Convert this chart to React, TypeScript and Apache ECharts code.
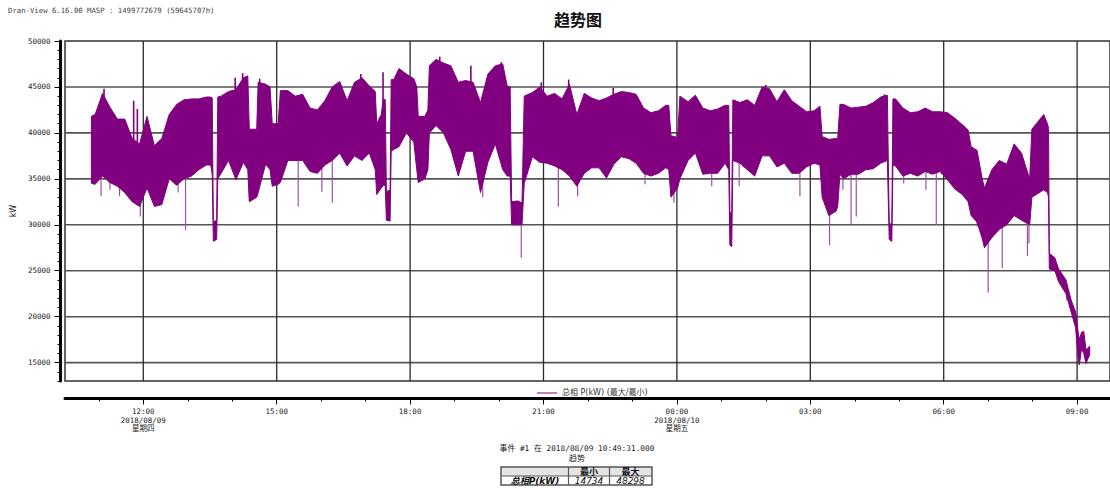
import React, { useEffect, useRef } from "react";
import * as echarts from "echarts";

const chartTitle = "趋势图";
const headerText = "Dran-View 6.16.00 MASP : 1499772679 (59645707h)";
const seriesName = "总相 P(kW) (最大/最小)";
const yAxisName = "kW";
const eventText = "事件 #1 在 2018/08/09 10:49:31.000";
const subTitle = "趋势";
const tableHeaders = ["最小", "最大"];
const tableRowLabel = "总相P(kW)";
const statMin = 14734;
const statMax = 48298;

// time in minutes since 2018/08/09 00:00
const times = [
  650, 655, 665, 675, 685, 695, 705, 715, 725, 735, 745, 755, 765, 775, 785, 795, 805, 811, 813, 814.5, 819, 820.5,
  825, 835, 845, 855, 861, 863, 873, 875, 885, 891, 894, 902, 905, 915, 925, 935, 945, 955, 965, 975, 985, 995,
  1005, 1015, 1025, 1033, 1035, 1041, 1044, 1046.5, 1048, 1053, 1054.5, 1058, 1065, 1075, 1085, 1089, 1091, 1100,
  1104, 1106, 1115, 1125, 1135, 1145, 1155, 1165, 1175, 1185, 1195, 1205, 1211, 1215, 1217, 1225, 1231, 1234,
  1245, 1255, 1265, 1275, 1285, 1295, 1305, 1315, 1325, 1335, 1345, 1355, 1365, 1375, 1385, 1395, 1405, 1415,
  1425, 1429, 1432, 1441, 1444, 1455, 1465, 1475, 1485, 1495, 1505, 1510, 1511.5, 1514, 1515.5, 1525, 1535, 1545,
  1555, 1565, 1575, 1585, 1595, 1605, 1615, 1625, 1633, 1636, 1645, 1655, 1657, 1660, 1665, 1675, 1685, 1695,
  1705, 1715, 1724, 1726.5, 1730, 1731.5, 1735, 1745, 1755, 1765, 1775, 1785, 1795, 1805, 1815, 1825, 1833, 1837,
  1845, 1852, 1855, 1865, 1875, 1885, 1895, 1905, 1916, 1919, 1925, 1935, 1940, 1941.5, 1942.5, 1950, 1955, 1965,
  1972, 1978, 1981, 1983, 1986, 1989, 1992, 1995, 1997,
];
const hiVals = [
  41800, 42000, 44300, 42800, 41500, 41500, 39400, 38800, 41800, 38600, 39400, 42000, 43100, 43600, 43700, 43700, 43900, 43900, 43800, 30300, 30500, 43900,
  44000, 44500, 44700, 46000, 46200, 40400, 40400, 45500, 45300, 45000, 41000, 41000, 44600, 44600, 44000, 44200, 42700, 42500, 43500, 45000, 45600, 43500,
  45500, 46000, 45100, 44500, 41000, 42000, 43700, 43600, 33600, 33800, 45800, 45800, 47000, 46400, 45900, 45000, 41800, 41800,
  42500, 47300, 48000, 47600, 47300, 45500, 45700, 45500, 43300, 46400, 47300, 47500, 45100, 45000, 32500, 32600, 32400, 44000,
  44400, 45000, 44000, 44300, 43700, 45300, 42000, 44300, 43800, 43500, 43800, 44200, 44500, 44400, 44200, 42700, 42200, 42400,
  43000, 43000, 39700, 39500, 44000, 43400, 44100, 42700, 42400, 42600, 43000, 43000, 31300, 31300, 43600, 43300, 43600, 43000,
  45000, 44800, 43400, 44700, 43500, 42900, 42300, 42400, 42900, 39600, 39300, 39400, 39400, 43100, 43100, 42700, 42800, 42900,
  43300, 43900, 44100, 30200, 30000, 43700, 43700, 42700, 42200, 42300, 42700, 42300, 42300, 42200, 41600, 40900, 40300, 38500,
  38100, 35000, 34000, 36000, 37000, 36600, 38800, 37800, 35000, 40400, 41000, 42000, 41000, 40500, 26900, 26400, 25200, 24000,
  21800, 20500, 18600, 17500, 18300, 18400, 16400, 16600, 16800,
];
const loVals = [
  34500, 34400, 35300, 34600, 34200, 33500, 32500, 32000, 34000, 32000, 32200, 35000, 34300, 35000, 35300, 36000, 36500, 36500, 35500, 28200, 28400, 35000,
  35600, 37000, 34900, 36800, 36000, 32500, 33000, 33500, 36600, 36000, 34200, 34400, 34600, 37000, 37000, 37000, 35800, 35600, 36500, 37000, 37800, 36400,
  37500, 37000, 37800, 36000, 33300, 34000, 34300, 34300, 30500, 30400, 38000, 38200, 38500, 40000, 39000, 36000, 34600, 35000,
  36000, 40000, 40800, 40000, 38200, 35300, 38000, 38000, 33500, 36800, 38800, 36000, 35300, 35300, 30000, 30000, 30000, 34500,
  37400, 36800, 36700, 36400, 36000, 35300, 34200, 35600, 36200, 36200, 35100, 36600, 37400, 37200, 36700, 35600, 35300, 35600,
  36200, 36000, 33000, 34000, 35000, 37000, 37800, 35500, 35600, 35600, 36700, 36000, 27800, 27600, 37000, 36700, 36000, 35300,
  37500, 37500, 36300, 36700, 35600, 35600, 36300, 36700, 36500, 33000, 31000, 31500, 32000, 35500, 35000, 35500, 35500, 36000,
  36100, 36700, 37000, 28400, 28200, 36500, 36400, 35300, 35600, 35300, 35800, 35500, 35800, 34900, 33900, 33300, 32500, 31000,
  30300, 28500, 27500, 28600, 29500, 30000, 31000, 30500, 30000, 33000, 33300, 33800, 33500, 33000, 25200, 25000, 23800, 22500,
  20500, 18800, 15700, 14750, 16500, 16000, 14900, 15500, 15800,
];

// isolated excursions outside the dense band: [minute, value]
const downSpikes = [
  [663, 33100], [675, 33800], [688, 33100], [716, 30900], [767, 33500], [777, 29400], [929, 32000], [961, 33600],
  [975, 32400], [1178, 33000], [1230, 26400], [1280, 32000], [1306, 33100], [1397, 34400], [1436, 32400],
  [1487, 34200], [1524, 34200], [1606, 33100], [1646, 27800], [1664, 33800], [1675, 29900], [1682, 30900],
  [1746, 34500], [1776, 33800], [1790, 30000], [1845, 29800], [1860, 22600], [1879, 25300], [1913, 26600],
  [1915, 28000], [1966, 21800],
];
const upSpikes = [
  [667, 44800], [707, 43500], [712, 42600], [844, 46000], [854, 46500], [877, 45900], [1013.5, 46400],
  [1043.5, 46600], [1120, 48300], [1162, 47300], [1203, 47700], [1257, 45500], [1294, 45800], [1354, 44900],
  [1560, 45200], [1720, 44200],
];

const yMin = 13000;
const yMax = 50000;
const xMin = 614.35;
const xMax = 2024.4;
const yMajor = [15000, 20000, 25000, 30000, 35000, 40000, 45000, 50000];
const yGrid = [15000, 20000, 25000, 30000, 35000, 40000, 45000];
const xMajor = [720, 900, 1080, 1260, 1440, 1620, 1800, 1980];
const xMajorLabels = [
  "12:00\n2018/08/09\n星期四", "15:00", "18:00", "21:00", "00:00\n2018/08/10\n星期五", "03:00", "06:00", "09:00",
];
const xMinor = [660, 720, 780, 840, 900, 960, 1020, 1080, 1140, 1200, 1260, 1320, 1380, 1440, 1500, 1560, 1620,
  1680, 1740, 1800, 1860, 1920, 1980];

const PURPLE = "#800080";
const MONO = "'DejaVu Sans Mono', 'Noto Sans CJK SC', monospace";
const CJK = "'DejaVu Sans', 'Noto Sans CJK SC', sans-serif";

function interp(arrT: number[], arrV: number[], t: number) {
  if (t <= arrT[0]) return arrV[0];
  for (let i = 1; i < arrT.length; i++) {
    if (t <= arrT[i]) {
      const f = (t - arrT[i - 1]) / (arrT[i] - arrT[i - 1]);
      return arrV[i - 1] + f * (arrV[i] - arrV[i - 1]);
    }
  }
  return arrV[arrV.length - 1];
}

export default function App() {
  const ref = useRef<HTMLDivElement>(null);
  useEffect(() => {
    if (!ref.current) return;
    const chart = echarts.init(ref.current, null, { renderer: "svg" });
    const axisFont = { fontFamily: MONO, fontSize: 7.5, color: "#222" };
    const option: any = {
      animation: false,
      title: {
        text: chartTitle,
        left: 549,
        top: 7,
        textStyle: { fontSize: 16, fontWeight: "bold", fontFamily: CJK, color: "#111" },
      },
      legend: {
        data: [{ name: seriesName, icon: "rect" }],
        left: 532,
        top: 384,
        itemWidth: 20,
        itemHeight: 1,
        selectedMode: false,
        textStyle: { fontFamily: CJK, fontSize: 8, color: "#333" },
      },
      grid: {
        left: 65,
        top: 41,
        right: 0,
        bottom: 108,
        show: true,
        borderColor: "#333",
        borderWidth: 1.5,
      },
      xAxis: [
        {
          type: "value",
          min: xMin,
          max: xMax,
          position: "bottom",
          offset: 17.5,
          axisLine: { show: true, lineStyle: { color: "#000", width: 3 } },
          axisTick: { show: true, customValues: xMinor, length: 3, lineStyle: { color: "#000", width: 1 } },
          axisLabel: { show: false },
          splitLine: { show: false },
        },
        {
          type: "value",
          min: xMin,
          max: xMax,
          position: "bottom",
          offset: 17.5,
          axisLine: { show: false },
          axisTick: { show: true, customValues: xMajor, length: 6, lineStyle: { color: "#000", width: 1 } },
          axisLabel: {
            show: true,
            customValues: xMajor,
            margin: 9,
            lineHeight: 8.5,
            align: "center",
            ...axisFont,
            formatter: (v: number) => {
              const i = xMajor.indexOf(Math.round(v));
              return i >= 0 ? xMajorLabels[i] : "";
            },
          },
          splitLine: { show: false },
        },
      ],
      yAxis: [
        {
          type: "value",
          min: yMin,
          max: yMax,
          interval: 1000,
          offset: 4.5,
          axisLine: { show: true, lineStyle: { color: "#000", width: 3 } },
          axisTick: { show: true, length: 3, lineStyle: { color: "#000", width: 1 } },
          axisLabel: { show: false },
          splitLine: { show: false },
        },
        {
          type: "value",
          min: yMin,
          max: yMax,
          position: "left",
          offset: 4.5,
          name: yAxisName,
          nameLocation: "middle",
          nameGap: 42,
          nameTextStyle: { fontFamily: CJK, fontSize: 8, color: "#222" },
          axisLine: { show: false },
          axisTick: { show: true, customValues: yMajor, length: 6, lineStyle: { color: "#000", width: 1 } },
          axisLabel: { show: true, customValues: yMajor, margin: 10, ...axisFont, formatter: (v: number) => String(v) },
          splitLine: { show: false },
        },
      ],
      series: [
        {
          type: "custom",
          name: "gridY",
          coordinateSystem: "cartesian2d",
          silent: true,
          z: 1,
          data: yGrid.map((v) => [xMin, v]),
          renderItem: (params: any, api: any) => {
            const v = api.value(1);
            const a = api.coord([xMin, v]);
            const b = api.coord([xMax, v]);
            return {
              type: "line",
              shape: { x1: a[0], y1: a[1], x2: b[0], y2: b[1] },
              style: { stroke: "#555", lineWidth: 1.6 },
            };
          },
        },
        {
          type: "custom",
          name: "gridX",
          coordinateSystem: "cartesian2d",
          silent: true,
          z: 1,
          data: xMajor.map((t) => [t, yMin]),
          renderItem: (params: any, api: any) => {
            const t = api.value(0);
            const a = api.coord([t, yMin]);
            const b = api.coord([t, yMax]);
            return {
              type: "line",
              shape: { x1: a[0], y1: a[1], x2: b[0], y2: b[1] },
              style: { stroke: "#2a2a2a", lineWidth: 1.3 },
            };
          },
        },
        {
          type: "custom",
          name: "spikes",
          coordinateSystem: "cartesian2d",
          silent: true,
          z: 2,
          data: downSpikes.map((d) => [d[0], d[1], 0]).concat(upSpikes.map((d) => [d[0], d[1], 1])),
          renderItem: (params: any, api: any) => {
            const t = api.value(0);
            const v = api.value(1);
            const up = api.value(2) === 1;
            const base = up ? interp(times, hiVals, t) - 500 : interp(times, loVals, t) + 500;
            const a = api.coord([t, base]);
            const b = api.coord([t, v]);
            return {
              type: "line",
              shape: { x1: a[0], y1: a[1], x2: b[0], y2: b[1] },
              style: { stroke: up ? PURPLE : "#a050a0", lineWidth: up ? 1.6 : 1.2 },
            };
          },
        },
        {
          type: "custom",
          name: seriesName,
          coordinateSystem: "cartesian2d",
          silent: true,
          z: 3,
          itemStyle: { color: PURPLE },
          data: [[times[0], hiVals[0]]],
          renderItem: (params: any, api: any) => {
            const top = times.map((t, i) => api.coord([t, hiVals[i]]));
            const bottom = times.map((t, i) => api.coord([t, loVals[i]])).reverse();
            return {
              type: "polygon",
              shape: { points: top.concat(bottom) },
              style: { fill: PURPLE, stroke: PURPLE, lineWidth: 1, lineJoin: "miter" },
            };
          },
        },
      ],
      graphic: [
        {
          type: "text",
          x: 8,
          y: 10,
          style: { text: headerText, font: `7.3px ${MONO}`, fill: "#444", verticalAlign: "middle" },
        },
        {
          type: "text",
          x: 577,
          y: 448,
          style: { text: eventText, font: `7.8px ${MONO}`, fill: "#222", align: "center", verticalAlign: "middle" },
        },
        {
          type: "text",
          x: 577,
          y: 458,
          style: { text: subTitle, font: `8px ${CJK}`, fill: "#222", align: "center", verticalAlign: "middle" },
        },
        { type: "rect", shape: { x: 501, y: 467, width: 151, height: 9 }, style: { fill: "#e4e4e4" } },
        { type: "rect", shape: { x: 501, y: 476, width: 151, height: 9 }, style: { fill: "#ffffff" } },
        { type: "rect", shape: { x: 501, y: 467, width: 151, height: 18 }, style: { fill: "none", stroke: "#555", lineWidth: 1.5 } },
        { type: "line", shape: { x1: 501, y1: 476, x2: 652, y2: 476 }, style: { stroke: "#555", lineWidth: 1.2 } },
        { type: "line", shape: { x1: 568.5, y1: 467, x2: 568.5, y2: 485 }, style: { stroke: "#555", lineWidth: 1.2 } },
        { type: "line", shape: { x1: 609.5, y1: 467, x2: 609.5, y2: 485 }, style: { stroke: "#555", lineWidth: 1.2 } },
        {
          type: "text", x: 589, y: 471.5,
          style: { text: tableHeaders[0], font: `bold 9px ${CJK}`, fill: "#111", align: "center", verticalAlign: "middle" },
        },
        {
          type: "text", x: 630.5, y: 471.5,
          style: { text: tableHeaders[1], font: `bold 9px ${CJK}`, fill: "#111", align: "center", verticalAlign: "middle" },
        },
        {
          type: "text", x: 535, y: 480.5,
          style: { text: tableRowLabel, font: `italic bold 9px ${CJK}`, fill: "#111", align: "center", verticalAlign: "middle" },
        },
        {
          type: "text", x: 589, y: 480.5,
          style: { text: String(statMin), font: `italic 9px ${CJK}`, fill: "#111", align: "center", verticalAlign: "middle" },
        },
        {
          type: "text", x: 630.5, y: 480.5,
          style: { text: String(statMax), font: `italic 9px ${CJK}`, fill: "#111", align: "center", verticalAlign: "middle" },
        },
      ],
    };
    chart.setOption(option);
    return () => chart.dispose();
  }, []);
  return (
    <div
      ref={ref}
      style={{ position: "fixed", left: 0, top: 0, width: 1110, height: 489, background: "#fff" }}
    />
  );
}
